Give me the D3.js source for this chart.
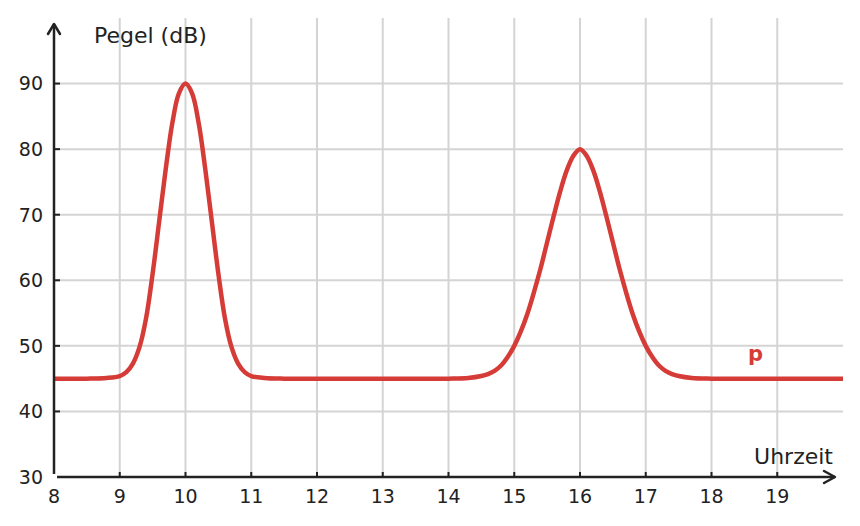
<!DOCTYPE html>
<html>
<head>
<meta charset="utf-8">
<script src="https://cdn.jsdelivr.net/npm/d3@7"></script>
<style>
  body { margin: 0; background: #fff; }
  svg { display: block; font-family: "DejaVu Sans", sans-serif; }
</style>
</head>
<body>
<svg id="chart" width="860" height="526"></svg>
<script>
// Uhrzeit (x) und Pegel in dB (y)
var uhrzeit = [8, 8.5, 8.8, 9, 9.1, 9.2, 9.3, 9.4, 9.5, 9.6, 9.7, 9.8, 9.9, 10,
               10.1, 10.2, 10.3, 10.4, 10.5, 10.6, 10.7, 10.8, 10.9, 11, 11.2, 11.5,
               12, 13, 14, 14.3, 14.5, 14.6, 14.7, 14.8, 14.9, 15, 15.1, 15.2, 15.3,
               15.4, 15.5, 15.6, 15.7, 15.8, 15.9, 16, 16.1, 16.2, 16.3, 16.4, 16.5,
               16.6, 16.7, 16.8, 16.9, 17, 17.1, 17.2, 17.3, 17.4, 17.5, 17.7, 18, 19, 20];
var pegel = [45, 45, 45.1, 45.4, 46.0, 47.3, 49.8, 54.2, 61.0, 69.0, 77.0, 84.0, 88.5, 90,
             88.5, 84.0, 77.0, 69.0, 61.0, 54.2, 49.8, 47.3, 46.0, 45.4, 45.1, 45,
             45, 45, 45, 45.1, 45.4, 45.7, 46.2, 47.0, 48.3, 50, 52.2, 54.9, 58.2,
             61.8, 65.8, 69.8, 73.6, 76.8, 79.0, 80, 79.0, 76.8, 73.6, 69.8, 65.8,
             61.8, 58.2, 54.9, 52.2, 50, 48.3, 47.0, 46.2, 45.7, 45.4, 45.1, 45, 45, 45];

var xTicks = [8, 9, 10, 11, 12, 13, 14, 15, 16, 17, 18, 19];
var yTicks = [30, 40, 50, 60, 70, 80, 90];

var svg = d3.select("#chart");
var ink = "#222";
var red = "#d63c37";

var x = d3.scaleLinear().domain([8, 20]).range([54, 843]);
var y = d3.scaleLinear().domain([30, 100]).range([477, 18]);

// gitter
svg.append("g").selectAll("line")
  .data(xTicks.slice(1))
  .join("line")
  .attr("x1", d => x(d)).attr("x2", d => x(d))
  .attr("y1", y(100)).attr("y2", y(30))
  .attr("stroke", "#d4d4d4").attr("stroke-width", 2);

svg.append("g").selectAll("line")
  .data(yTicks.slice(1))
  .join("line")
  .attr("x1", x(8)).attr("x2", x(20))
  .attr("y1", d => y(d)).attr("y2", d => y(d))
  .attr("stroke", "#d4d4d4").attr("stroke-width", 2);

// kurve
var line = d3.line()
  .x((d, i) => x(uhrzeit[i]))
  .y(d => y(d))
  .curve(d3.curveCatmullRom.alpha(0.5));

svg.append("path")
  .datum(pegel)
  .attr("d", line)
  .attr("fill", "none")
  .attr("stroke", red)
  .attr("stroke-width", 4.5)
  .attr("stroke-linejoin", "round");

// achsen
svg.append("line")
  .attr("x1", x(8)).attr("x2", x(8))
  .attr("y1", y(30) - 3).attr("y2", 24)
  .attr("stroke", ink).attr("stroke-width", 2.5);
svg.append("path")
  .attr("d", "M" + (x(8) - 6) + ",34 L" + x(8) + ",24 L" + (x(8) + 6) + ",34")
  .attr("fill", "none").attr("stroke", ink).attr("stroke-width", 2.5)
  .attr("stroke-linecap", "round").attr("stroke-linejoin", "round");

svg.append("line")
  .attr("x1", x(8) + 3).attr("x2", 835)
  .attr("y1", y(30)).attr("y2", y(30))
  .attr("stroke", ink).attr("stroke-width", 2.5);
svg.append("path")
  .attr("d", "M824," + (y(30) - 6) + " L835," + y(30) + " L824," + (y(30) + 6))
  .attr("fill", "none").attr("stroke", ink).attr("stroke-width", 2.5)
  .attr("stroke-linecap", "round").attr("stroke-linejoin", "round");

// ticks
svg.append("g").selectAll("line")
  .data(xTicks.slice(1))
  .join("line")
  .attr("x1", d => x(d)).attr("x2", d => x(d))
  .attr("y1", y(30)).attr("y2", y(30) - 5)
  .attr("stroke", ink).attr("stroke-width", 2);

svg.append("g").selectAll("line")
  .data(yTicks.slice(1))
  .join("line")
  .attr("x1", x(8)).attr("x2", x(8) + 6)
  .attr("y1", d => y(d)).attr("y2", d => y(d))
  .attr("stroke", ink).attr("stroke-width", 2);

// beschriftung
svg.append("g").selectAll("text")
  .data(xTicks)
  .join("text")
  .attr("x", d => x(d))
  .attr("y", 503)
  .attr("text-anchor", "middle")
  .attr("font-size", 19)
  .attr("fill", ink)
  .text(d => d);

svg.append("g").selectAll("text")
  .data(yTicks)
  .join("text")
  .attr("x", 43)
  .attr("y", d => y(d))
  .attr("dy", "0.36em")
  .attr("text-anchor", "end")
  .attr("font-size", 19)
  .attr("fill", ink)
  .text(d => d);

svg.append("text")
  .attr("x", 94).attr("y", 43)
  .attr("font-size", 22).attr("fill", ink)
  .text("Pegel (dB)");

svg.append("text")
  .attr("x", 833).attr("y", 464)
  .attr("text-anchor", "end")
  .attr("font-size", 22).attr("fill", ink)
  .text("Uhrzeit");

svg.append("text")
  .attr("x", 748).attr("y", 361)
  .attr("font-size", 21).attr("font-weight", "bold")
  .attr("fill", red)
  .text("p");
</script>
</body>
</html>
